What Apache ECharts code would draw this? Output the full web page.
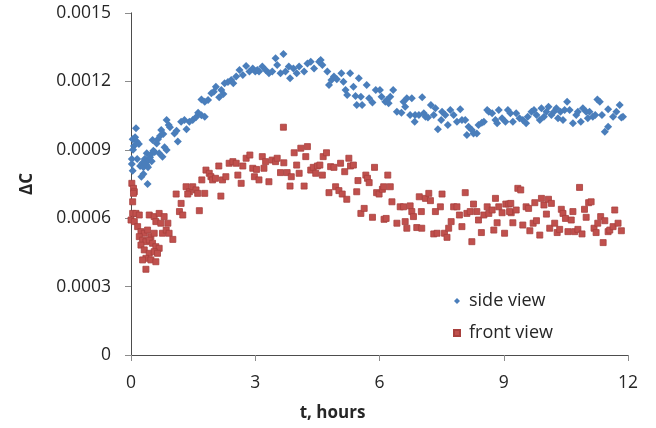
<!DOCTYPE html>
<html>
<head>
<meta charset="utf-8">
<script src="https://cdn.jsdelivr.net/npm/echarts@6/dist/echarts.min.js"></script>
<style>
html,body{margin:0;padding:0;background:#fff;}
#chart{width:656px;height:428px;}
</style>
</head>
<body>
<div id="chart"></div>
<script>
// t (hours), ΔC
var sideView = [
[0.02,8.38e-4],[0.04,8.08e-4],[0.02,8.60e-4],[0.04,9.46e-4],[0.07,9.17e-4],[0.10,9.55e-4],[0.12,9.94e-4],[0.14,9.36e-4],[0.19,9.25e-4],[0.05,9.00e-4],
[0.15,8.60e-4],[0.22,8.29e-4],[0.25,7.82e-4],[0.27,8.41e-4],[0.30,8.23e-4],[0.30,7.94e-4],[0.33,8.60e-4],[0.35,8.43e-4],[0.38,8.32e-4],[0.38,8.85e-4],
[0.40,7.50e-4],[0.41,8.23e-4],[0.43,8.55e-4],[0.46,8.67e-4],[0.49,8.82e-4],[0.50,8.50e-4],[0.52,9.43e-4],[0.54,8.96e-4],[0.57,8.90e-4],[0.62,9.28e-4],
[0.65,9.46e-4],[0.68,8.85e-4],[0.70,9.61e-4],[0.73,9.87e-4],[0.76,8.70e-4],[0.78,9.69e-4],[0.81,9.11e-4],[0.86,8.99e-4],[0.86,10.31e-4],[0.91,10.09e-4],
[0.94,9.99e-4],[1.05,9.72e-4],[1.10,9.84e-4],[1.13,9.36e-4],[1.21,10.23e-4],[1.29,10.31e-4],[1.34,9.90e-4],[1.41,10.23e-4],[1.49,10.31e-4],[1.57,10.43e-4],
[1.62,10.63e-4],[1.70,10.51e-4],[1.78,10.45e-4],[1.70,11.21e-4],[1.78,11.11e-4],[1.86,11.18e-4],[1.94,11.48e-4],[2.00,11.55e-4],[2.05,11.77e-4],[2.13,11.30e-4],
[2.18,11.62e-4],[2.23,11.45e-4],[2.26,11.92e-4],[2.34,11.97e-4],[2.42,12.06e-4],[2.47,11.92e-4],[2.54,12.21e-4],[2.62,12.50e-4],[2.70,12.28e-4],[2.78,12.68e-4],
[2.86,12.43e-4],[2.94,12.57e-4],[3.00,12.43e-4],[3.05,12.50e-4],[3.09,12.43e-4],[3.17,12.65e-4],[3.25,12.50e-4],[3.33,12.36e-4],[3.41,12.43e-4],[3.49,13.01e-4],
[3.53,12.72e-4],[3.61,12.36e-4],[3.68,13.20e-4],[3.73,12.43e-4],[3.81,12.65e-4],[3.84,12.14e-4],[3.92,12.57e-4],[4.00,12.36e-4],[4.06,12.65e-4],[4.18,12.43e-4],
[4.26,12.79e-4],[4.34,12.86e-4],[4.42,12.57e-4],[4.54,12.86e-4],[4.58,12.94e-4],[4.62,12.72e-4],[4.74,12.43e-4],[4.78,11.84e-4],[4.84,12.06e-4],[4.90,12.21e-4],
[4.97,12.09e-4],[5.08,12.36e-4],[5.13,11.99e-4],[5.18,11.62e-4],[5.22,11.40e-4],[5.29,12.36e-4],[5.37,11.77e-4],[5.42,11.36e-4],[5.45,10.96e-4],[5.50,12.14e-4],
[5.55,11.33e-4],[5.58,10.96e-4],[5.69,11.84e-4],[5.75,11.26e-4],[5.83,11.07e-4],[5.91,11.62e-4],[6.01,11.62e-4],[6.05,11.33e-4],[6.14,11.11e-4],[6.18,11.18e-4],
[6.22,11.04e-4],[6.26,11.33e-4],[6.33,11.62e-4],[6.42,10.67e-4],[6.53,10.63e-4],[6.58,11.11e-4],[6.62,10.89e-4],[6.66,11.26e-4],[6.74,10.53e-4],[6.78,11.26e-4],
[6.85,10.23e-4],[6.86,10.53e-4],[6.95,10.53e-4],[7.03,11.30e-4],[7.07,10.60e-4],[7.11,10.45e-4],[7.17,10.42e-4],[7.24,10.96e-4],[7.31,10.53e-4],[7.35,10.82e-4],
[7.41,9.90e-4],[7.49,10.31e-4],[7.51,10.67e-4],[7.59,10.53e-4],[7.65,10.09e-4],[7.71,10.75e-4],[7.79,10.53e-4],[7.87,10.23e-4],[7.95,10.78e-4],[7.99,10.31e-4],
[8.07,10.31e-4],[8.11,9.65e-4],[8.15,10.01e-4],[8.23,9.87e-4],[8.27,9.72e-4],[8.35,9.72e-4],[8.39,10.09e-4],[8.47,10.19e-4],[8.52,10.23e-4],[8.60,10.75e-4],
[8.64,10.67e-4],[8.72,10.60e-4],[8.80,10.31e-4],[8.84,10.16e-4],[8.88,10.75e-4],[8.96,10.38e-4],[9.04,10.23e-4],[9.10,10.75e-4],[9.16,10.60e-4],[9.22,10.23e-4],
[9.30,10.60e-4],[9.38,10.38e-4],[9.46,10.31e-4],[9.54,10.16e-4],[9.58,10.45e-4],[9.67,10.67e-4],[9.73,10.75e-4],[9.79,10.53e-4],[9.87,10.31e-4],[9.91,10.82e-4],
[9.97,10.45e-4],[10.03,10.67e-4],[10.08,10.89e-4],[10.15,10.53e-4],[10.21,10.67e-4],[10.27,10.82e-4],[10.31,10.38e-4],[10.37,10.67e-4],[10.43,10.31e-4],[10.47,10.75e-4],
[10.53,11.11e-4],[10.59,10.75e-4],[10.67,10.16e-4],[10.75,10.53e-4],[10.79,10.67e-4],[10.86,10.23e-4],[10.91,10.82e-4],[10.99,10.67e-4],[11.03,10.38e-4],[11.07,10.67e-4],
[11.15,10.45e-4],[11.21,10.53e-4],[11.26,11.21e-4],[11.32,11.11e-4],[11.37,10.53e-4],[11.44,9.79e-4],[11.52,10.01e-4],[11.52,10.78e-4],[11.64,10.45e-4],[11.72,10.67e-4],
[11.80,10.96e-4],[11.84,10.42e-4],[11.88,10.45e-4]
];
var frontView = [
[0.02,7.53e-4],[0.06,7.31e-4],[0.08,7.16e-4],[0.06,7.09e-4],[0.04,6.72e-4],[0.04,6.21e-4],[0.12,6.21e-4],[0.20,6.14e-4],[0.00,5.92e-4],[0.08,5.85e-4],
[0.44,6.14e-4],[0.56,6.07e-4],[0.68,6.21e-4],[0.80,6.07e-4],[0.89,5.78e-4],[0.60,5.85e-4],[0.72,5.78e-4],[0.16,5.63e-4],[0.24,5.41e-4],[0.32,5.34e-4],
[0.40,5.48e-4],[0.48,5.19e-4],[0.56,5.34e-4],[0.20,5.19e-4],[0.28,5.04e-4],[0.36,4.97e-4],[0.44,5.04e-4],[0.52,4.90e-4],[0.60,4.75e-4],[0.68,4.68e-4],
[0.76,5.34e-4],[0.85,5.48e-4],[0.92,5.34e-4],[1.01,5.07e-4],[0.24,4.82e-4],[0.32,4.61e-4],[0.44,4.46e-4],[0.56,4.53e-4],[0.64,4.46e-4],[0.36,4.24e-4],
[0.48,4.17e-4],[0.60,4.09e-4],[0.28,4.17e-4],[0.36,3.76e-4],[1.09,7.06e-4],[1.17,6.29e-4],[1.25,6.14e-4],[1.21,6.65e-4],[1.33,7.38e-4],[1.41,7.16e-4],
[1.49,7.38e-4],[1.57,7.24e-4],[1.61,7.09e-4],[1.37,7.06e-4],[1.65,6.33e-4],[1.71,7.68e-4],[1.78,7.09e-4],[1.81,8.11e-4],[1.89,7.97e-4],[1.93,7.82e-4],
[1.97,7.68e-4],[2.04,7.75e-4],[2.12,8.29e-4],[2.17,6.97e-4],[2.21,7.68e-4],[2.29,7.82e-4],[2.37,8.41e-4],[2.46,8.48e-4],[2.54,8.41e-4],[2.58,7.89e-4],
[2.66,7.53e-4],[2.70,8.29e-4],[2.78,8.63e-4],[2.87,8.77e-4],[2.94,8.19e-4],[2.98,7.82e-4],[3.68,9.99e-4],[3.03,8.14e-4],[3.09,7.68e-4],[3.17,8.70e-4],
[3.21,8.19e-4],[3.25,8.48e-4],[3.33,7.60e-4],[3.41,8.55e-4],[3.49,8.48e-4],[3.53,8.63e-4],[3.61,8.00e-4],[3.69,8.43e-4],[3.77,8.00e-4],[3.84,7.41e-4],
[3.87,7.82e-4],[3.94,8.87e-4],[4.00,8.33e-4],[4.06,7.97e-4],[4.10,9.07e-4],[4.18,7.41e-4],[4.22,8.70e-4],[4.26,9.14e-4],[4.34,8.11e-4],[4.40,8.23e-4],
[4.46,7.97e-4],[4.50,8.29e-4],[4.56,8.33e-4],[4.62,7.89e-4],[4.64,8.70e-4],[4.72,8.87e-4],[4.78,7.12e-4],[4.82,8.26e-4],[4.90,8.23e-4],[4.94,7.38e-4],
[5.02,7.21e-4],[5.06,8.41e-4],[5.10,7.06e-4],[5.16,8.04e-4],[5.21,6.83e-4],[5.26,8.63e-4],[5.30,8.29e-4],[5.37,8.33e-4],[5.45,7.16e-4],[5.48,7.65e-4],
[5.55,6.21e-4],[5.63,6.43e-4],[5.67,7.89e-4],[5.71,7.75e-4],[5.75,7.56e-4],[5.83,6.04e-4],[5.88,8.23e-4],[5.93,7.12e-4],[5.99,7.06e-4],[6.07,7.27e-4],
[6.11,5.95e-4],[6.20,7.89e-4],[6.10,7.38e-4],[6.26,7.38e-4],[6.30,6.72e-4],[6.16,5.99e-4],[6.42,5.78e-4],[6.50,6.50e-4],[6.58,6.50e-4],[6.74,6.54e-4],
[6.78,6.29e-4],[6.82,6.07e-4],[6.62,5.85e-4],[6.66,5.56e-4],[6.90,5.59e-4],[7.02,5.56e-4],[6.96,6.94e-4],[7.01,6.29e-4],[7.11,6.87e-4],[7.19,7.09e-4],
[7.23,6.77e-4],[7.31,5.31e-4],[7.39,5.34e-4],[7.51,7.06e-4],[7.47,6.50e-4],[7.35,6.29e-4],[7.57,5.34e-4],[7.63,5.16e-4],[7.67,5.56e-4],[7.73,5.85e-4],
[7.79,6.50e-4],[7.87,6.50e-4],[7.93,6.14e-4],[7.99,5.63e-4],[8.07,7.12e-4],[8.11,6.21e-4],[8.19,6.29e-4],[8.23,4.97e-4],[8.27,6.62e-4],[8.35,6.29e-4],
[8.39,5.92e-4],[8.46,5.37e-4],[8.52,6.14e-4],[8.60,6.50e-4],[8.64,6.21e-4],[8.72,6.36e-4],[8.76,5.48e-4],[8.80,6.87e-4],[8.84,5.80e-4],[8.88,6.50e-4],
[8.96,6.24e-4],[9.02,5.34e-4],[9.05,6.62e-4],[9.12,6.62e-4],[9.18,6.24e-4],[9.34,7.31e-4],[9.41,7.24e-4],[9.17,6.65e-4],[9.14,6.29e-4],[9.30,6.36e-4],
[9.22,5.80e-4],[9.46,5.70e-4],[9.54,6.50e-4],[9.60,6.43e-4],[9.63,5.45e-4],[9.71,5.78e-4],[9.75,6.68e-4],[9.79,5.89e-4],[9.87,5.26e-4],[9.91,6.87e-4],
[9.97,6.58e-4],[10.03,6.18e-4],[10.08,6.83e-4],[10.15,6.65e-4],[10.11,5.56e-4],[10.23,5.78e-4],[10.29,5.37e-4],[10.35,5.51e-4],[10.39,6.39e-4],[10.43,6.21e-4],
[10.49,5.99e-4],[10.55,5.41e-4],[10.63,5.92e-4],[10.67,6.29e-4],[10.71,5.41e-4],[10.79,5.51e-4],[10.83,7.35e-4],[10.89,5.31e-4],[10.95,6.39e-4],[10.99,6.04e-4],
[11.05,6.68e-4],[11.11,6.72e-4],[11.18,5.56e-4],[11.23,5.37e-4],[11.27,5.78e-4],[11.34,6.07e-4],[11.40,4.93e-4],[11.44,5.89e-4],[11.52,5.41e-4],[11.56,5.48e-4],
[11.64,5.63e-4],[11.68,6.36e-4],[11.76,5.78e-4],[11.84,5.45e-4]
];
var seriesNames = ['side view', 'front view'];
var xName = 't, hours';
var yName = 'ΔC';
var xMin = 0, xMax = 12, xStep = 3;
var yMin = 0, yMax = 0.0015, yStep = 0.0003;

var FONT = "'Open Sans', 'Liberation Sans', sans-serif";
var TXT = '#262626';
var AX = '#8c8c8c';
var chart = echarts.init(document.getElementById('chart'), null, {renderer: 'canvas'});
chart.setOption({
  animation: false,
  backgroundColor: '#ffffff',
  grid: {left: 131, right: 28, top: 13, bottom: 73, containLabel: false},
  legend: {
    orient: 'vertical', left: 448, top: 287, itemGap: 14,
    itemWidth: 6, itemHeight: 6,
    textStyle: {fontFamily: FONT, fontSize: 18, color: TXT, padding: [0, 0, 0, 4]},
    data: [{name: seriesNames[0], icon: 'diamond'}, {name: seriesNames[1], icon: 'rect'}]
  },
  xAxis: [{
    type: 'value', min: xMin, max: xMax, interval: xStep,
    name: xName, nameLocation: 'middle', nameGap: 50,
    nameTextStyle: {fontFamily: FONT, fontSize: 17, fontWeight: 'bold', color: TXT, padding: [0, 94, 0, 0]},
    axisLine: {show: true, lineStyle: {color: AX, width: 1}},
    axisTick: {show: true, length: 6, lineStyle: {color: AX}},
    axisLabel: {margin: 19, fontFamily: FONT, fontSize: 17.5, color: TXT},
    splitLine: {show: false}
  }, {
    type: 'value', position: 'top', min: xMin, max: xMax,
    axisLine: {show: true, lineStyle: {color: '#4d4d4d', width: 1}},
    axisTick: {show: false}, axisLabel: {show: false}, splitLine: {show: false}
  }],
  yAxis: [{
    type: 'value', min: yMin, max: yMax, interval: yStep,
    name: yName, nameLocation: 'middle', nameGap: 95, nameRotate: 90,
    nameTextStyle: {fontFamily: FONT, fontSize: 17, fontWeight: 'bold', color: TXT},
    axisLine: {show: true, lineStyle: {color: AX, width: 1}},
    axisTick: {show: true, length: 6, lineStyle: {color: AX}},
    axisLabel: {margin: 20, fontFamily: FONT, fontSize: 17.5, color: TXT,
      formatter: function (v) { return v === 0 ? '0' : v.toFixed(4); }},
    splitLine: {show: false}
  }, {
    type: 'value', position: 'right', min: yMin, max: yMax,
    axisLine: {show: true, lineStyle: {color: '#4d4d4d', width: 1}},
    axisTick: {show: false}, axisLabel: {show: false}, splitLine: {show: false}
  }],
  series: [{
    name: seriesNames[0], type: 'scatter', symbol: 'diamond', symbolSize: 8,
    itemStyle: {color: '#4A7EBB', opacity: 1},
    data: sideView
  }, {
    name: seriesNames[1], type: 'scatter', symbol: 'rect', symbolSize: 6,
    itemStyle: {color: '#C0504D', borderColor: '#A8403D', borderWidth: 0.8, opacity: 1},
    data: frontView
  }]
});
</script>
</body>
</html>
